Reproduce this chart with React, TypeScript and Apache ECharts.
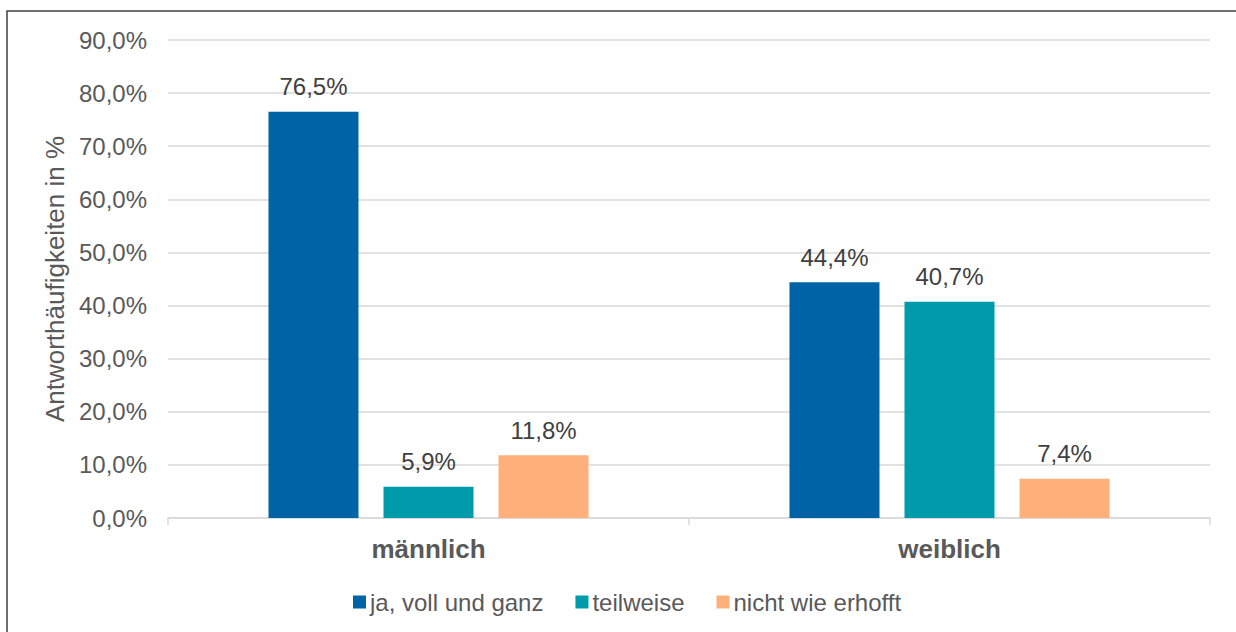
import React, { useEffect, useRef } from "react";
import * as echarts from "echarts";

const categories = ["männlich", "weiblich"];
const seriesNames = ["ja, voll und ganz", "teilweise", "nicht wie erhofft"];
const valuesJa = [76.5, 44.4];
const valuesTeilweise = [5.9, 40.7];
const valuesNicht = [11.8, 7.4];
const colors = ["#0063A6", "#009BAA", "#FFB07A"];

const fmt = (v: number) => v.toFixed(1).replace(".", ",") + "%";

export default function App() {
  const ref = useRef<HTMLDivElement>(null);
  useEffect(() => {
    const chart = echarts.init(ref.current!, null, { renderer: "svg" });
    const font = "Liberation Sans, Arial, sans-serif";
    const data = [valuesJa, valuesTeilweise, valuesNicht];
    chart.setOption({
      animation: false,
      textStyle: { fontFamily: font },
      graphic: [
        {
          type: "rect",
          shape: { x: 7, y: 11, width: 1300, height: 700 },
          style: { fill: "none", stroke: "#404040", lineWidth: 1.5 },
          silent: true,
        },
      ],
      grid: { left: 168, right: 26, top: 40, bottom: 114, containLabel: false },
      legend: {
        top: 590,
        left: 353,
        padding: 0,
        itemWidth: 13,
        itemHeight: 13,
        itemGap: 32,
        icon: "rect",
        textStyle: { fontSize: 24, color: "#595959", fontFamily: font, padding: [0, 0, 0, -1] },
        data: seriesNames,
      },
      xAxis: {
        type: "category",
        data: categories,
        axisLine: { lineStyle: { color: "#d9d9d9", width: 1.5 } },
        axisTick: { show: true, length: 7, lineStyle: { color: "#d9d9d9", width: 1.5 } },
        axisLabel: { fontSize: 26, fontWeight: "bold", color: "#595959", margin: 18, fontFamily: font },
      },
      yAxis: {
        type: "value",
        min: 0,
        max: 90,
        interval: 10,
        name: "Antworthäufigkeiten in %",
        nameLocation: "middle",
        nameGap: 100,
        nameTextStyle: { fontSize: 26, color: "#595959", fontFamily: font },
        axisLine: { show: false },
        axisTick: { show: false },
        splitLine: { lineStyle: { color: "#d9d9d9", width: 1.5 } },
        axisLabel: { fontSize: 24, color: "#595959", margin: 21, formatter: fmt, fontFamily: font },
      },
      series: seriesNames.map((name, i) => ({
        name,
        type: "bar",
        data: data[i],
        barWidth: 90,
        barGap: "27.8%",
        itemStyle: { color: colors[i] },
        label: {
          show: true,
          position: "top",
          distance: 13,
          fontSize: 24,
          color: "#404040",
          fontFamily: font,
          formatter: (p: any) => fmt(p.value),
        },
      })),
    });
    return () => chart.dispose();
  }, []);
  return (
    <div
      ref={ref}
      style={{ position: "fixed", left: 0, top: 0, width: 1236, height: 632, background: "#fff" }}
    />
  );
}
